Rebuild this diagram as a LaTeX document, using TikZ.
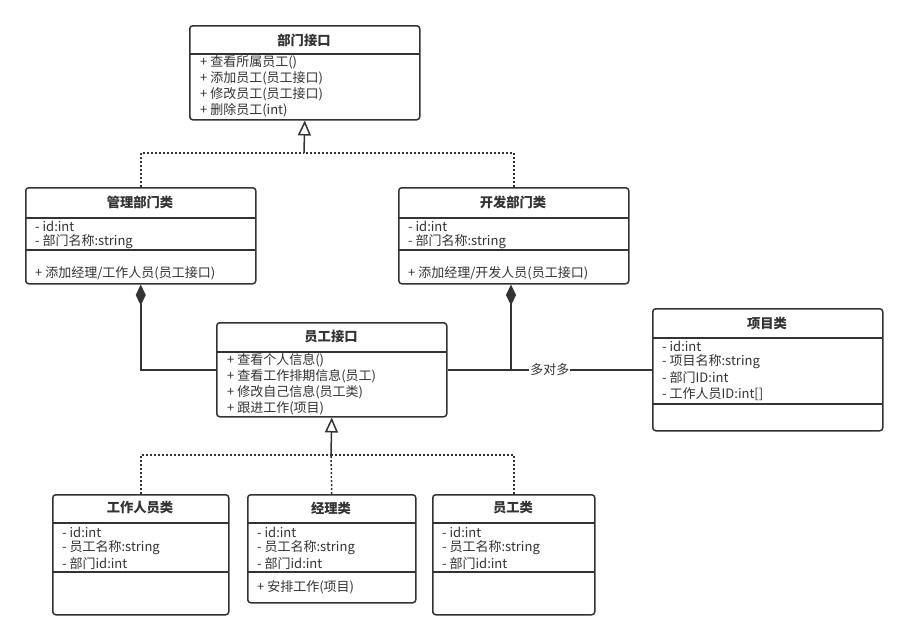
\documentclass[tikz,border=0pt]{standalone}
\usepackage{fontspec}
\setmainfont{Noto Sans CJK SC}
\usetikzlibrary{arrows.meta}
\definecolor{lc}{HTML}{333333}
\begin{document}
\begin{tikzpicture}[x=1pt,y=-1pt,
  box/.style={draw=lc, line width=1.5pt, rounded corners=3pt, fill=white, anchor=north west, inner sep=0pt},
  sep/.style={draw=lc, line width=1.5pt},
  ttl/.style={font=\fontsize{13.3}{15}\selectfont\bfseries, text=lc, inner sep=0pt},
  txt/.style={font=\fontsize{13}{15}\selectfont, text=lc, anchor=west, inner sep=0pt},
  conn/.style={draw=lc, line width=1.5pt},
  dots/.style={conn, dash pattern=on 2pt off 2pt},
  inh/.style={conn, -{Triangle[open, length=15pt, width=13pt]}},
  comp/.style={conn, -{Diamond[length=21pt, width=10pt]}},
]
\useasboundingbox[fill=white] (0,0) rectangle (907,641);

% ---- 部门接口
\node[box, minimum width=230pt, minimum height=94pt] (iface) at (189,25) {};
\draw[sep] (189,54) -- (419,54);
\node[ttl] (iface-t) at (304,40) {部门接口};
\node[txt] (iface-1) at (200,62) {+ 查看所属员工()};
\node[txt] (iface-2) at (200,78) {+ 添加员工(员工接口)};
\node[txt] (iface-3) at (200,94) {+ 修改员工(员工接口)};
\node[txt] (iface-4) at (200,110) {+ 删除员工(int)};

% ---- 管理部门类
\node[box, minimum width=230pt, minimum height=96pt] (mgmt) at (25,187) {};
\draw[sep] (25,218) -- (255,218);
\draw[sep] (25,250) -- (255,250);
\node[ttl] (mgmt-t) at (140,202) {管理部门类};
\node[txt] (mgmt-1) at (35,226) {- id:int};
\node[txt] (mgmt-2) at (35,242) {- 部门名称:string};
\node[txt] (mgmt-3) at (35,273) {+ 添加经理/工作人员(员工接口)};

% ---- 开发部门类
\node[box, minimum width=230pt, minimum height=96pt] (dev) at (398,187) {};
\draw[sep] (398,218) -- (628,218);
\draw[sep] (398,250) -- (628,250);
\node[ttl] (dev-t) at (513,202) {开发部门类};
\node[txt] (dev-1) at (408,226) {- id:int};
\node[txt] (dev-2) at (408,242) {- 部门名称:string};
\node[txt] (dev-3) at (408,273) {+ 添加经理/开发人员(员工接口)};

% ---- 员工接口
\node[box, minimum width=230pt, minimum height=94pt] (emp) at (216,322) {};
\draw[sep] (216,352) -- (446,352);
\node[ttl] (emp-t) at (331,337) {员工接口};
\node[txt] (emp-1) at (227,360) {+ 查看个人信息()};
\node[txt] (emp-2) at (227,376) {+ 查看工作排期信息(员工)};
\node[txt] (emp-3) at (227,392) {+ 修改自己信息(员工类)};
\node[txt] (emp-4) at (227,408) {+ 跟进工作(项目)};

% ---- 项目类
\node[box, minimum width=230pt, minimum height=122pt] (proj) at (652,308) {};
\draw[sep] (652,338) -- (882,338);
\draw[sep] (652,404) -- (882,404);
\node[ttl] (proj-t) at (767,323) {项目类};
\node[txt] (proj-1) at (662,346) {- id:int};
\node[txt] (proj-2) at (662,362) {- 项目名称:string};
\node[txt] (proj-3) at (662,378) {- 部门ID:int};
\node[txt] (proj-4) at (662,394) {- 工作人员ID:int[]};

% ---- 工作人员类
\node[box, minimum width=176pt, minimum height=120pt] (worker) at (52,494) {};
\draw[sep] (52,523) -- (228,523);
\draw[sep] (52,572) -- (228,572);
\node[ttl] (worker-t) at (140,508) {工作人员类};
\node[txt] (worker-1) at (62,532) {- id:int};
\node[txt] (worker-2) at (62,548) {- 员工名称:string};
\node[txt] (worker-3) at (62,564) {- 部门id:int};

% ---- 经理类
\node[box, minimum width=168pt, minimum height=108pt] (mgr) at (247,494) {};
\draw[sep] (247,523) -- (415,523);
\draw[sep] (247,572) -- (415,572);
\node[ttl] (mgr-t) at (331,508) {经理类};
\node[txt] (mgr-1) at (257,532) {- id:int};
\node[txt] (mgr-2) at (257,548) {- 员工名称:string};
\node[txt] (mgr-3) at (257,564) {- 部门id:int};
\node[txt] (mgr-4) at (257,587) {+ 安排工作(项目)};

% ---- 员工类
\node[box, minimum width=162pt, minimum height=120pt] (staff) at (432,494) {};
\draw[sep] (432,523) -- (594,523);
\draw[sep] (432,572) -- (594,572);
\node[ttl] (staff-t) at (513,508) {员工类};
\node[txt] (staff-1) at (442,532) {- id:int};
\node[txt] (staff-2) at (442,548) {- 员工名称:string};
\node[txt] (staff-3) at (442,564) {- 部门id:int};

% ---- connectors: realization to 部门接口
\coordinate (j1) at (304,153);
\draw[dots] (mgmt.north) |- (j1);
\draw[dots] (dev.north) |- (j1);
\draw[inh] (j1) -- (iface.south);

% ---- realization to 员工接口
\coordinate (j2) at (331,455);
\draw[dots] (worker.north) |- (j2);
\draw[dots] (staff.north) |- (j2);
\draw[dots] (mgr.north) -- (j2);
\draw[inh] (j2) -- (emp.south);

% ---- composition
\draw[comp] (emp.west) -| (mgmt.south);
\coordinate (j3) at (511,369);
\draw[comp] (j3) -- (dev.south -| j3);

% ---- association
\draw[conn] (emp.east) -- (proj.west) node[pos=0.5, fill=white, inner sep=1pt, font=\fontsize{13}{15}\selectfont, text=lc] (lbl) {多对多};
\end{tikzpicture}
\end{document}
